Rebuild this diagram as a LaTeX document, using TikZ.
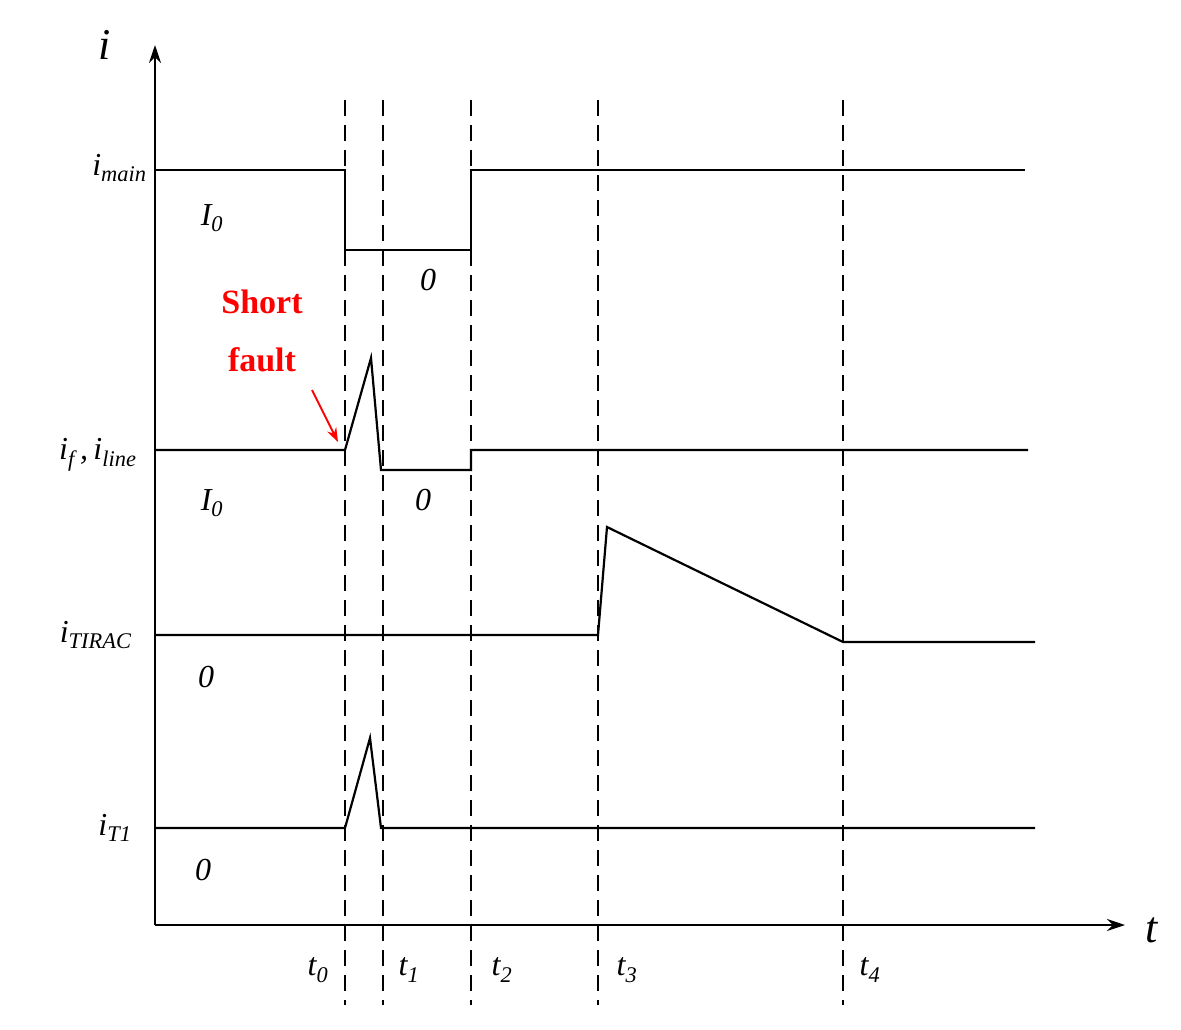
\documentclass[tikz,border=0pt]{standalone}
\usepackage{fontspec}
\setmainfont{Liberation Serif}
\usetikzlibrary{arrows.meta}
\begin{document}
\begin{tikzpicture}[x=1pt,y=-1pt,
  sig/.style={line width=2.2pt},
  dsh/.style={line width=2pt,dash pattern=on 16pt off 9pt},
  lab/.style={font=\fontsize{32}{36}\selectfont\itshape},
  red/.style={font=\fontsize{34}{36}\selectfont\bfseries,text=red}]
\useasboundingbox (0,0) rectangle (1181,1030);
\coordinate (o) at (155,925);
\coordinate (ytop) at (155,45);
\coordinate (xend) at (1125,925);
\draw[sig,-{Stealth[length=18pt,width=12pt]}] (o) -- (ytop);
\draw[sig,-{Stealth[length=18pt,width=12pt]}] (o) -- (xend);
\node[lab,font=\fontsize{44}{44}\selectfont\itshape] (il) at (105,45) {i};
\node[lab,font=\fontsize{44}{44}\selectfont\itshape] (tl) at (1152,930) {t};
\foreach \x/\n in {345/0,383/1,471/2,598/3,843/4}{
  \coordinate (d\n a) at (\x,100); \coordinate (d\n b) at (\x,1005);
  \draw[dsh] (d\n a) -- (d\n b);}
\node[lab] (t0) at (318,970) {t\textsubscript{0}};
\node[lab] (t1) at (409,970) {t\textsubscript{1}};
\node[lab] (t2) at (502,970) {t\textsubscript{2}};
\node[lab] (t3) at (627,970) {t\textsubscript{3}};
\node[lab] (t4) at (870,970) {t\textsubscript{4}};
% i_main
\draw[sig] (155,170) -- (345,170) -- (345,250) -- (471,250) -- (471,170) -- (1025,170);
\node[lab,anchor=east] (lm) at (150,168) {i\textsubscript{main}};
\node[lab] (I0a) at (212,218) {I\textsubscript{0}};
\node[lab] (z1) at (428,280) {0};
% i_f
\draw[sig] (155,450) -- (345,450) -- (371,358) -- (381,470) -- (471,470) -- (471,450) -- (1028,450);
\node[lab,anchor=east] (lf) at (140,455) {i\textsubscript{f}\,,\,i\textsubscript{line}};
\node[lab] (I0b) at (212,503) {I\textsubscript{0}};
\node[lab] (z2) at (423,500) {0};
\node[red] (sf1) at (262,302) {Short};
\node[red] (sf2) at (262,360) {fault};
\coordinate (ar1) at (312,390); \coordinate (ar2) at (338,442);
\draw[red,line width=2pt,draw=red,-{Stealth[length=14pt,width=10pt]}] (ar1) -- (ar2);
% i_TIRAC
\draw[sig] (155,635) -- (598,635) -- (607,527) -- (843,642) -- (1035,642);
\node[lab,anchor=east] (lt) at (135,635) {i\textsubscript{TIRAC}};
\node[lab] (z3) at (206,677) {0};
% i_T1
\draw[sig] (155,828) -- (345,828) -- (370,738) -- (381,828) -- (1035,828);
\node[lab,anchor=east] (lt1) at (135,828) {i\textsubscript{T1}};
\node[lab] (z4) at (203,870) {0};
\end{tikzpicture}
\end{document}
